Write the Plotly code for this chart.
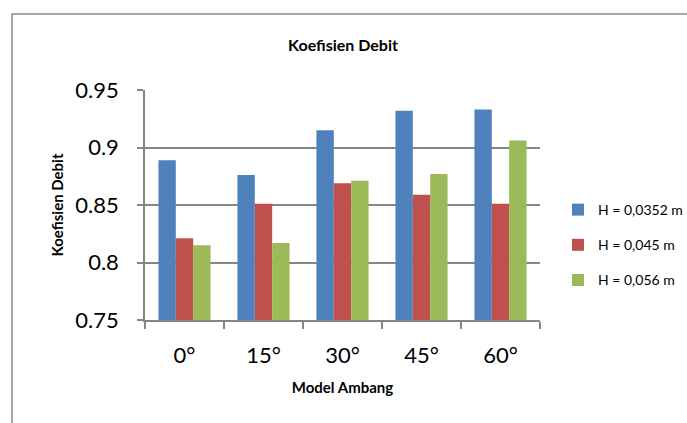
import plotly.graph_objects as go

categories = ["0°", "15°", "30°", "45°", "60°"]
series_names = ["H = 0,0352 m", "H = 0,045 m", "H = 0,056 m"]
h_0352 = [0.889, 0.876, 0.915, 0.932, 0.933]
h_045 = [0.821, 0.851, 0.869, 0.859, 0.851]
h_056 = [0.815, 0.817, 0.871, 0.877, 0.906]
colors = ["#4F81BD", "#C0504D", "#9BBB59"]
y_ticks = [0.75, 0.8, 0.85, 0.9, 0.95]
y_tick_text = ["0.75", "0.8", "0.85", "0.9", "0.95"]

W, H = 687, 423
L, R, T, B = 145, 147, 90, 103
pw = W - L - R
ph = H - T - B

FONT = "Lato, 'Open Sans', sans-serif"

fig = go.Figure()
for i, (name, vals) in enumerate(zip(series_names, [h_0352, h_045, h_056])):
    fig.add_trace(go.Bar(x=categories, y=vals, name=name,
                         marker=dict(color=colors[i], line=dict(width=0)),
                         legendgroup=f"g{i}"))

fig.update_layout(
    width=W, height=H,
    margin=dict(l=L, r=R, t=T, b=B, pad=0),
    paper_bgcolor="white", plot_bgcolor="white",
    barmode="group", bargap=0.34, bargroupgap=0,
    title=dict(text="<b>Koefisien Debit</b>", x=(343) / W, xanchor="center",
               y=1 - 45 / H, yanchor="middle", xref="container", yref="container",
               font=dict(family=FONT, size=16, color="black")),
    font=dict(family=FONT, color="black"),
    showlegend=True,
    legend=dict(xref="container", yref="container", x=558 / W, xanchor="left",
                y=1 - 245 / H, yanchor="middle", font=dict(size=14, family=FONT),
                tracegroupgap=14, traceorder="grouped", itemwidth=30,
                bgcolor="rgba(0,0,0,0)"),
    xaxis=dict(type="category", showline=True, linecolor="#868686", linewidth=1.5,
               ticks="outside", ticklen=7, tickcolor="#868686", tickwidth=1.5,
               tickson="boundaries", showgrid=False,
               tickfont=dict(size=22, family=FONT), ticklabelstandoff=15,
               title=dict(text="<b>Model Ambang</b>", font=dict(size=15, family=FONT), standoff=15)),
    yaxis=dict(range=[0.75, 0.95], tickvals=y_ticks, ticktext=y_tick_text,
               showline=True, linecolor="#868686", linewidth=1.5,
               ticks="outside", ticklen=6, tickcolor="#868686", tickwidth=1.5,
               showgrid=True, gridcolor="#868686", gridwidth=1.5, zeroline=False,
               tickfont=dict(size=22, family=FONT), ticklabelstandoff=14,
               title=dict(text="<b>Koefisien Debit</b>", font=dict(size=15, family=FONT), standoff=8)),
)

# outer chart border (extends beyond the visible canvas on right and bottom)
fig.add_shape(type="rect", xref="paper", yref="paper",
              x0=(12 - L) / pw, x1=(W + 20 - L) / pw,
              y0=-(B + 20) / ph, y1=(H - B - 14) / ph,
              line=dict(color="#8C8C8C", width=1.5), fillcolor="rgba(0,0,0,0)", layer="below")

fig.write_html("out.html")
